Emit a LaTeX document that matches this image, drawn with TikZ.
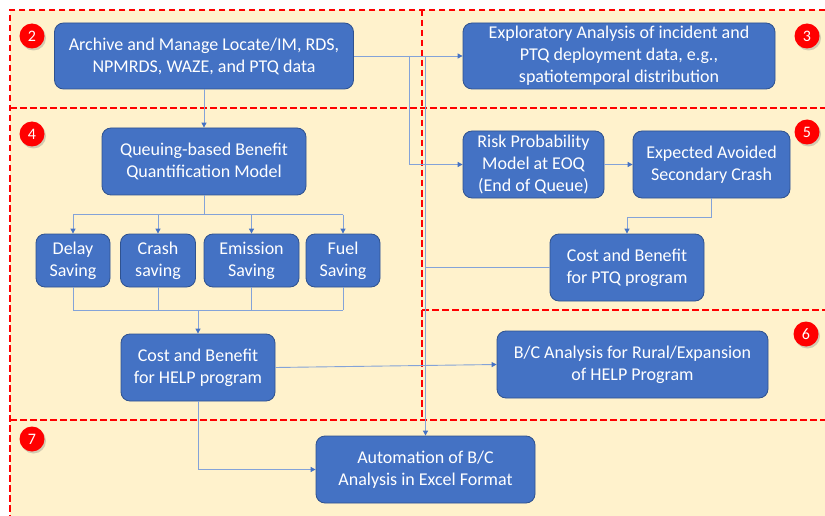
\documentclass[tikz,border=0pt]{standalone}
\usepackage{fontspec}
\setmainfont{Carlito}
\usetikzlibrary{arrows.meta,shadows}

\definecolor{bgyellow}{HTML}{FFF2CC}
\definecolor{boxblue}{HTML}{4472C4}
\definecolor{boxedge}{HTML}{2F528F}
\definecolor{linkblue}{RGB}{132,163,216}
\definecolor{dashred}{HTML}{FF0000}

\tikzset{
  stagebox/.style={draw=boxedge, line width=0.8pt, fill=boxblue, rounded corners=9pt,
    text=white, align=center, inner sep=0pt, minimum height=67pt,
    font=\fontsize{18}{22}\selectfont},
  link/.style={draw=linkblue, line width=0.9pt},
  linkto/.style={link, -{Triangle[length=5pt,width=5pt,color=boxblue]}},
  regionline/.style={draw=dashred, line width=1.6pt, dash pattern=on 6.5pt off 3.5pt},
  badge/.style={circle, fill=dashred, minimum size=25pt, inner sep=0pt, text=white,
    font=\fontsize{16}{16}\selectfont,
    drop shadow={opacity=0.35, shadow xshift=1.5pt, shadow yshift=-2pt}}
}

\begin{document}
\begin{tikzpicture}[x=1pt,y=-1pt]
  \useasboundingbox (0,0) rectangle (825,516);

  % regions
  \fill[bgyellow] (10,10) rectangle (825,516);
  \draw[regionline] (825,10) -- (10,10) -- (10,516);
  \draw[regionline] (10,108) -- (825,108);
  \draw[regionline] (422,10) -- (422,420);
  \draw[regionline] (422,310) -- (825,310);
  \draw[regionline] (10,420) -- (825,420);

  % badges
  \foreach \n/\x/\y in {2/32/36, 3/807/36, 4/32/134, 5/807/132, 6/806/334, 7/32/439}
  { \node[badge] (badge\n) at (\x,\y) {\n}; }

  % data and exploration
  \node[stagebox, minimum width=299pt, minimum height=66pt] (archive) at (204,56)
    {Archive and Manage Locate/IM, RDS,\\NPMRDS, WAZE, and PTQ data};
  \node[stagebox, minimum width=312pt, minimum height=66pt] (explore) at (619,56)
    {Exploratory Analysis of incident and\\PTQ deployment data, e.g.,\\spatiotemporal distribution};

  % HELP benefits
  \node[stagebox, minimum width=204pt] (queue) at (204,161.5)
    {Queuing-based Benefit\\Quantification Model};
  \foreach \name/\x/\w/\txt in {delay/73/74/{Delay\\Saving}, crash/158/75/{Crash\\saving},
      emission/251.5/95/{Emission\\Saving}, fuel/343/74/{Fuel\\Saving}}
  { \node[stagebox, minimum width=\w, minimum height=53pt] (\name) at (\x,260.5) {\txt}; }
  \node[stagebox, minimum width=154pt] (helpcb) at (198,367.5)
    {Cost and Benefit\\for HELP program};

  % PTQ benefits
  \node[stagebox, minimum width=141pt] (risk) at (533.5,164.5)
    {Risk Probability\\Model at EOQ\\(End of Queue)};
  \node[stagebox, minimum width=157pt] (avoided) at (711.5,164.5)
    {Expected Avoided\\Secondary Crash};
  \node[stagebox, minimum width=154pt] (ptqcb) at (627,267.5)
    {Cost and Benefit\\for PTQ program};

  % B/C
  \node[stagebox, minimum width=271pt] (rural) at (632.5,364.5)
    {B/C Analysis for Rural/Expansion\\of HELP Program};
  \node[stagebox, minimum width=219pt] (excel) at (425.5,469.5)
    {Automation of B/C\\Analysis in Excel Format};

  % connectors
  \draw[linkto] (archive.south) -- (queue.north);
  \draw[linkto] (archive.east) -- (explore.west);
  \draw[linkto] (archive.east -| 409,0) |- (risk.west);
  \draw[linkto] (archive.east -| excel.north) -- (excel.north);
  \draw[link] (ptqcb.west) -- (ptqcb.west -| excel.north);

  \draw[link] (queue.south) -- (queue.south |- 0,214.5);
  \draw[link] (delay.north |- 0,214.5) -- (fuel.north |- 0,214.5);
  \foreach \s in {delay,crash,emission,fuel}
  { \draw[linkto] (\s.north |- 0,214.5) -- (\s.north);
    \draw[link] (\s.south) -- (\s.south |- 0,310); }
  \draw[link] (delay.south |- 0,310) -- (fuel.south |- 0,310);
  \draw[linkto] (helpcb.north |- 0,310) -- (helpcb.north);

  \draw[linkto] (risk.east) -- (avoided.west);
  \draw[linkto] (avoided.south) -- ++(0,19) -| (ptqcb.north);
  \draw[linkto] (helpcb.east) -- (rural.west);
  \draw[linkto] (helpcb.south) |- (excel.west);
\end{tikzpicture}
\end{document}
